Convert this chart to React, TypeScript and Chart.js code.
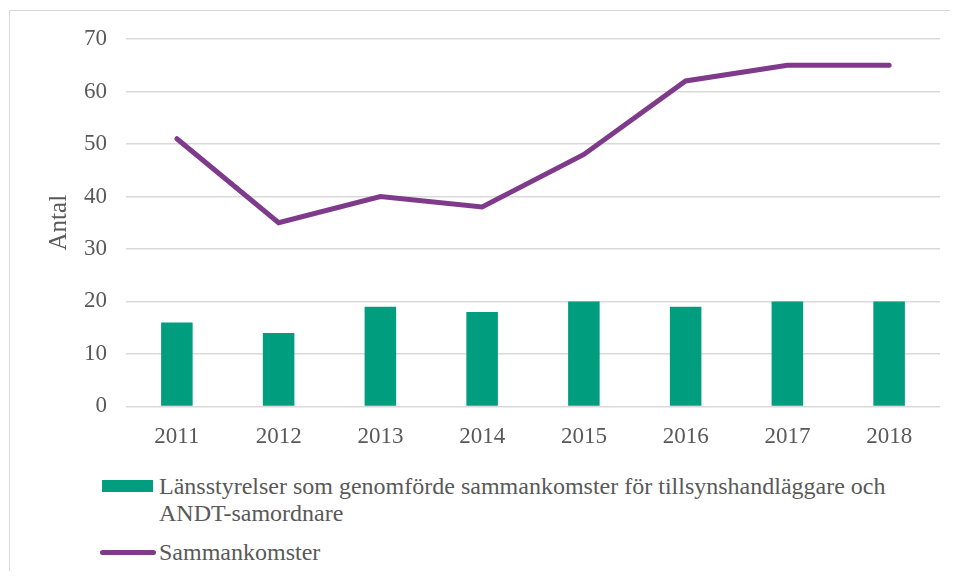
import React, { useEffect, useRef } from "react";
import { Chart, registerables } from "chart.js";

Chart.register(...registerables);

const categories = ["2011", "2012", "2013", "2014", "2015", "2016", "2017", "2018"];
const barValues = [16, 14, 19, 18, 20, 19, 20, 20];
const lineValues = [51, 35, 40, 38, 48, 62, 65, 65];
const barLabel = "Länsstyrelser som genomförde sammankomster för tillsynshandläggare och ANDT-samordnare";
const lineLabel = "Sammankomster";

const GREEN = "#009E7E";
const PURPLE = "#7F3A8C";
const FONT = "'Liberation Serif', 'Times New Roman', serif";

export default function App() {
  const ref = useRef<HTMLCanvasElement | null>(null);

  useEffect(() => {
    if (!ref.current) return;
    const chart = new Chart(ref.current, {
      data: {
        labels: categories,
        datasets: [
          {
            type: "line",
            label: lineLabel,
            data: lineValues,
            borderColor: PURPLE,
            backgroundColor: PURPLE,
            borderWidth: 5,
            borderCapStyle: "round",
            borderJoinStyle: "miter",
            pointRadius: 0,
            tension: 0,
            order: 0,
          },
          {
            type: "bar",
            label: barLabel,
            data: barValues,
            backgroundColor: GREEN,
            barPercentage: 0.62,
            categoryPercentage: 0.5,
            order: 1,
          },
        ],
      },
      options: {
        responsive: false,
        animation: false,
        layout: { padding: { top: 39, right: 18, bottom: 3, left: 0 } },
        plugins: { legend: { display: false }, tooltip: { enabled: false } },
        scales: {
          x: {
            grid: { display: false },
            border: { display: false },
            ticks: { color: "#595959", font: { family: FONT, size: 23 }, padding: 9 },
          },
          y: {
            min: 0,
            max: 70,
            afterFit: (s: any) => {
              s.width = 126;
            },
            ticks: { stepSize: 10, color: "#595959", font: { family: FONT, size: 23 }, padding: 19 },
            grid: { color: "#D9D9D9", lineWidth: 1.5, drawTicks: false },
            border: { display: false },
            title: {
              display: true,
              text: "Antal",
              color: "#595959",
              font: { family: FONT, size: 25 },
              padding: { top: 44, bottom: 0 },
            },
          },
        },
      },
    });
    return () => chart.destroy();
  }, []);

  const textStyle: React.CSSProperties = {
    fontFamily: FONT,
    fontSize: 24,
    color: "#595959",
    lineHeight: "27px",
  };

  return (
    <div style={{ position: "relative", width: 958, height: 579, margin: -8, overflow: "hidden", background: "#fff" }}>
      <div
        style={{
          position: "absolute",
          left: 9,
          top: 10,
          width: 1000,
          height: 700,
          borderLeft: "1.5px solid #D9D9D9",
          borderTop: "1.5px solid #D9D9D9",
        }}
      />
      <canvas ref={ref} width={958} height={463} style={{ position: "absolute", left: 0, top: 0 }} />
      <div style={{ position: "absolute", left: 102, top: 473, width: 800, display: "flex" }}>
        <div style={{ width: 51, height: 12, background: GREEN, marginTop: 7, flex: "none" }} />
        <div style={{ ...textStyle, marginLeft: 6, width: 745 }}>{barLabel}</div>
      </div>
      <div style={{ position: "absolute", left: 100, top: 539, display: "flex", alignItems: "center" }}>
        <div style={{ width: 56, height: 5, background: PURPLE, borderRadius: 3, flex: "none" }} />
        <div style={{ ...textStyle, marginLeft: 3 }}>{lineLabel}</div>
      </div>
    </div>
  );
}
